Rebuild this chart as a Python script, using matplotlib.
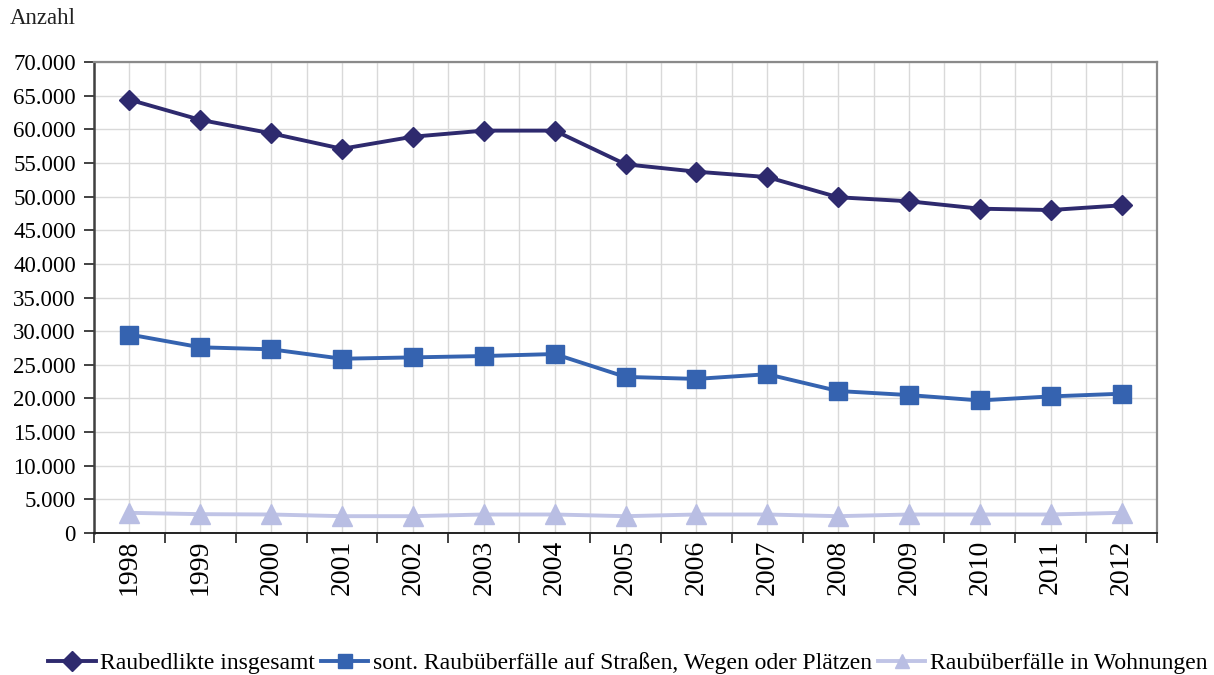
import matplotlib
matplotlib.use("Agg")
import matplotlib.pyplot as plt
from matplotlib.ticker import FuncFormatter, FixedLocator

# Raubdelikte 1998-2012
years = ["1998", "1999", "2000", "2001", "2002", "2003", "2004", "2005",
         "2006", "2007", "2008", "2009", "2010", "2011", "2012"]
raub_gesamt = [64400, 61400, 59400, 57100, 58900, 59800, 59800, 54800,
               53700, 52900, 49900, 49300, 48200, 48000, 48700]
raub_strassen = [29500, 27600, 27300, 25900, 26100, 26300, 26600, 23200,
                 22900, 23600, 21100, 20500, 19700, 20300, 20700]
raub_wohnungen = [3000, 2800, 2750, 2500, 2500, 2750, 2750, 2500,
                  2750, 2750, 2500, 2750, 2750, 2750, 3000]
series_labels = ["Raubedlikte insgesamt",
                 "sont. Raubüberfälle auf Straßen, Wegen oder Plätzen",
                 "Raubüberfälle in Wohnungen"]

plt.rcParams["font.family"] = ["Liberation Serif", "DejaVu Serif"]

fig = plt.figure(figsize=(12.14, 6.75), dpi=100)
ax = fig.add_axes([94 / 1214, 1 - 533 / 675, (1157 - 94) / 1214, (533 - 62) / 675])

x = list(range(len(years)))
ax.plot(x, raub_gesamt, color="#2E2A6E", lw=2.8, marker="D", ms=10.5,
        label=series_labels[0], zorder=4)
ax.plot(x, raub_strassen, color="#3563B0", lw=2.8, marker="s", ms=12.5,
        label=series_labels[1], zorder=4)
ax.plot(x, raub_wohnungen, color="#C0C4E6", lw=2.8, marker="^", ms=15,
        markerfacecolor="#B9BEE3", markeredgecolor="#B9BEE3",
        label=series_labels[2], zorder=4)

ax.set_xlim(-0.5, len(years) - 0.5)
ax.set_ylim(0, 70000)

# category boundaries carry the tick marks, centres carry the labels
ax.xaxis.set_major_locator(FixedLocator([i - 0.5 for i in range(len(years) + 1)]))
ax.set_xticklabels([])
ax.set_xticks(x, minor=True)
ax.set_xticklabels(years, minor=True, rotation=90, fontsize=20)
ax.tick_params(axis="x", which="major", direction="out", length=7, width=1.2, color="#222222")
ax.tick_params(axis="x", which="minor", length=0, pad=5)

ax.set_yticks(range(0, 70001, 5000))
ax.yaxis.set_major_formatter(FuncFormatter(lambda v, p: f"{int(v):,}".replace(",", ".")))
ax.tick_params(axis="y", direction="out", length=7, width=1.2, color="#222222",
               labelsize=16.5, pad=6)

ax.grid(True, which="both", axis="x", color="#D9D9D9", lw=1.0, zorder=0)
ax.grid(True, which="major", axis="y", color="#D9D9D9", lw=1.0, zorder=0)
ax.set_axisbelow(True)

ax.spines["left"].set_color("#404040")
ax.spines["left"].set_linewidth(1.8)
ax.spines["bottom"].set_color("#222222")
ax.spines["bottom"].set_linewidth(1.4)
ax.spines["top"].set_color("#8A8A8A")
ax.spines["top"].set_linewidth(1.6)
ax.spines["right"].set_color("#8A8A8A")
ax.spines["right"].set_linewidth(1.6)

fig.text(10 / 1214, 1 - 19 / 675, "Anzahl", fontsize=16.5, ha="left", va="center",
         color="#222222")

leg = fig.legend(loc="center", bbox_to_anchor=(628 / 1214, 1 - 663 / 675), ncol=3,
                 frameon=False, fontsize=17, handlelength=2.0, handletextpad=0.2,
                 columnspacing=0.25, borderaxespad=0, borderpad=0)
for h in leg.legend_handles:
    h.set_markersize(10)

fig.savefig("out.png", dpi=100)
